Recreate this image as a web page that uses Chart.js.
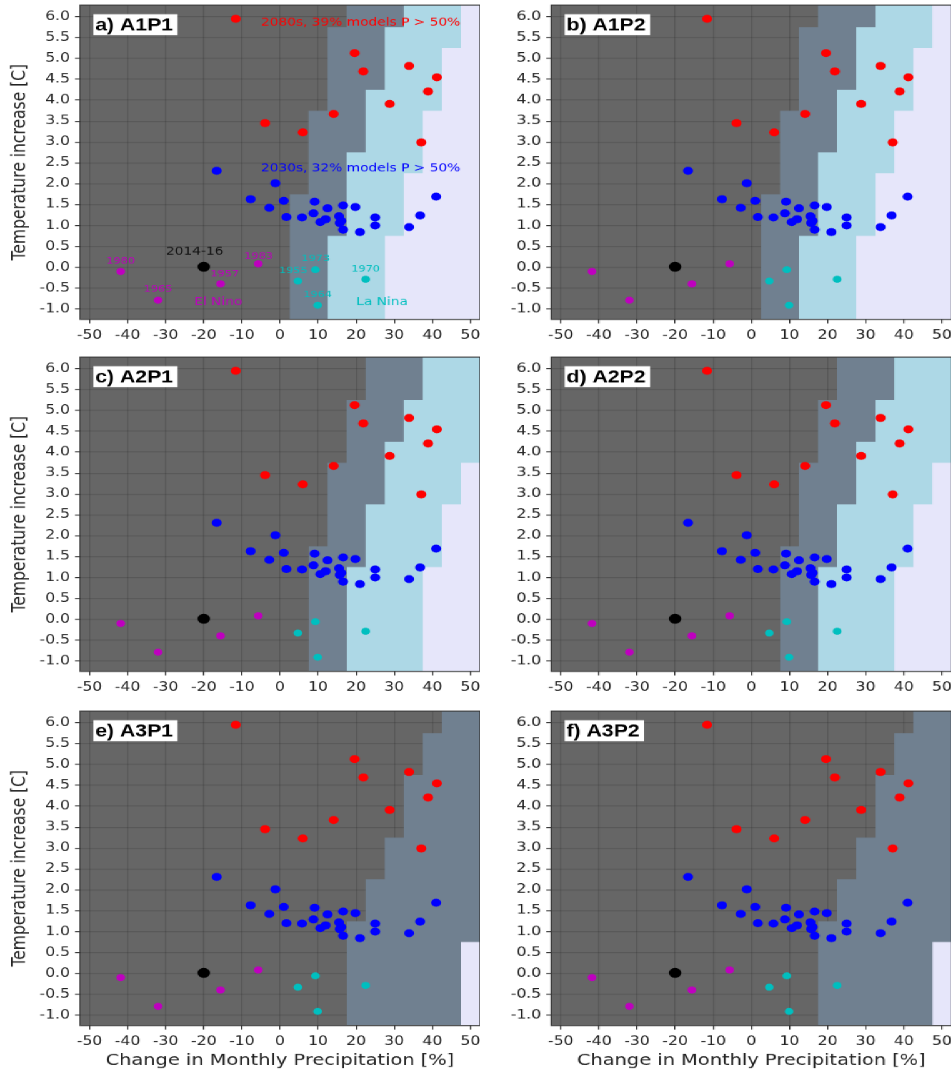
<!DOCTYPE html>
<html>
<head>
<meta charset="utf-8">
<script src="https://cdn.jsdelivr.net/npm/chart.js@4.4.1/dist/chart.umd.min.js"></script>
<style>
html, body { margin: 0; padding: 0; background: #fff; overflow: hidden; }
/* the source figure was resized wider than tall, so the whole sheet is stretched the same way */
#fig { position: absolute; left: 0; top: 0; width: 761px; height: 1069px; transform: scaleX(1.25); transform-origin: 0 0; }
#fig canvas { position: absolute; }
</style>
</head>
<body>
<div id="fig"></div>
<script>
// 2080s model projections (red)
const lateX = [-11.6, 19.6, 21.9, 33.9, 41.2, 38.9, 28.8, 14.1, -3.9, 6.0, 37.1];
const lateY = [5.95, 5.13, 4.69, 4.82, 4.55, 4.21, 3.91, 3.67, 3.45, 3.23, 2.99];

// 2030s model projections (blue)
const nearX = [-16.6, -1.2, -7.7, -2.8, 1.0, 1.7, 5.8, 9.1, 8.8, 10.6, 12.0, 12.5, 15.5, 16.1, 15.7, 16.6, 16.6, 19.8, 21.0, 25.0, 25.0, 33.9, 36.8, 41.0];
const nearY = [2.31, 2.01, 1.63, 1.42, 1.59, 1.20, 1.19, 1.57, 1.29, 1.08, 1.15, 1.41, 1.22, 1.11, 1.06, 1.48, 0.90, 1.44, 0.84, 1.19, 1.00, 0.96, 1.24, 1.69];

// observed years
const ninoYears = ['1980', '1965', '1957', '1983'];
const ninoX = [-41.8, -32.0, -15.6, -5.7];
const ninoY = [-0.10, -0.79, -0.40, 0.08];
const ninoLabelX = [-41.8, -32.0, -14.5, -5.6];
const ninoLabelY = [0.15, -0.53, -0.16, 0.26];

const ninaYears = ['1973', '1955', '1970', '1964'];
const ninaX = [9.3, 4.7, 22.5, 9.9];
const ninaY = [-0.06, -0.33, -0.29, -0.91];
const ninaLabelX = [9.4, 3.5, 22.5, 9.9];
const ninaLabelY = [0.20, -0.08, -0.04, -0.66];

const recentX = [-20.0];
const recentY = [0.01];

// probability cells: one entry per row of cells, giving the precipitation where each shade begins
const rowY = [-1.0, -0.5, 0.0, 0.5, 1.0, 1.5, 2.0, 2.5, 3.0, 3.5, 4.0, 4.5, 5.0, 5.5, 6.0];

const slateA = [2.5, 2.5, 2.5, 2.5, 2.5, 2.5, 7.5, 7.5, 7.5, 7.5, 12.5, 12.5, 12.5, 12.5, 17.5];
const cyanA = [12.5, 12.5, 12.5, 12.5, 17.5, 17.5, 17.5, 17.5, 22.5, 22.5, 22.5, 27.5, 27.5, 27.5, 32.5];
const lilacA = [27.5, 27.5, 27.5, 27.5, 32.5, 32.5, 32.5, 37.5, 37.5, 37.5, 42.5, 42.5, 42.5, 47.5, 47.5];

const slateC = [7.5, 7.5, 7.5, 7.5, 7.5, 7.5, 12.5, 12.5, 12.5, 12.5, 17.5, 17.5, 17.5, 22.5, 22.5];
const cyanC = [17.5, 17.5, 17.5, 17.5, 17.5, 22.5, 22.5, 22.5, 27.5, 27.5, 27.5, 32.5, 32.5, 37.5, 37.5];
const lilacC = [37.5, 37.5, 37.5, 37.5, 37.5, 42.5, 42.5, 42.5, 47.5, 47.5, null, null, null, null, null];

const slateE = [17.5, 17.5, 17.5, 17.5, 17.5, 22.5, 22.5, 27.5, 27.5, 32.5, 32.5, 32.5, 37.5, 37.5, 42.5];
const cyanE = [null, null, null, null, null, null, null, null, null, null, null, null, null, null, null];
const lilacE = [47.5, 47.5, 47.5, 47.5, null, null, null, null, null, null, null, null, null, null, null];

const xMin = -52.5, xMax = 52.5, yMin = -1.25, yMax = 6.28;

const darkShade = '#666666';
const shadeColours = ['#708090', '#add8e6', '#e6e6fa'];
const magenta = '#bf00bf';
const teal = '#00bfbf';

const panels = [
    { tag: 'a) A1P1', shades: [slateA, cyanA, lilacA], col: 0, row: 0, notes: true },
    { tag: 'b) A1P2', shades: [slateA, cyanA, lilacA], col: 1, row: 0 },
    { tag: 'c) A2P1', shades: [slateC, cyanC, lilacC], col: 0, row: 1 },
    { tag: 'd) A2P2', shades: [slateC, cyanC, lilacC], col: 1, row: 1 },
    { tag: 'e) A3P1', shades: [slateE, cyanE, lilacE], col: 0, row: 2 },
    { tag: 'f) A3P2', shades: [slateE, cyanE, lilacE], col: 1, row: 2 }
];

// column / row boxes in the unstretched sheet
const colLeft = [0, 384], colWidth = [384, 377], yAxisWidth = [64, 57];
const rowTop = [0, 352, 706], rowHeight = [350, 350, 363], xAxisHeight = [31, 31, 44];

Chart.defaults.font.family = "'DejaVu Sans', sans-serif";
Chart.defaults.color = '#222';

const pairs = (xs, ys) => xs.map((x, i) => ({ x: x, y: ys[i] }));

// staircase outline of one shade, filled down to the bottom of the plot
stepOutline = (starts) => {
    let xs = starts.map(v => v === null ? xMax : v);
    let pts = [{ x: xs[0], y: yMin }];
    for (let i = 0; i < xs.length - 1; i++) {
        if (xs[i + 1] !== xs[i]) {
            let edge = (rowY[i] + rowY[i + 1]) / 2;
            pts.push({ x: xs[i], y: edge });
            pts.push({ x: xs[i + 1], y: edge });
        }
    }
    pts.push({ x: xs[xs.length - 1], y: yMax + 1 });
    pts.push({ x: xMax, y: yMax + 1 });
    return pts;
}

buildNotes = () => {
    let notes = [
        { text: '2080s, 39% models P > 50%', x: -5.0, y: 5.86, color: '#ff0000', size: 11, align: 'left' },
        { text: '2030s, 32% models P > 50%', x: -5.0, y: 2.37, color: '#0000ff', size: 11, align: 'left' },
        { text: '2014-16', x: -22.4, y: 0.36, color: '#111', size: 11 },
        { text: 'El Nino', x: -16.2, y: -0.85, color: magenta, size: 11 },
        { text: 'La Nina', x: 26.8, y: -0.85, color: teal, size: 11 }
    ];
    ninoYears.forEach((t, i) => notes.push({ text: t, x: ninoLabelX[i], y: ninoLabelY[i], color: magenta, size: 9 }));
    ninaYears.forEach((t, i) => notes.push({ text: t, x: ninaLabelX[i], y: ninaLabelY[i], color: teal, size: 9 }));
    return notes;
}

const decor = {
    id: 'decor',
    beforeDraw(chart) {
        const { ctx, chartArea: a } = chart;
        ctx.save();
        ctx.fillStyle = darkShade;
        ctx.fillRect(a.left, a.top, a.right - a.left, a.bottom - a.top);
        ctx.restore();
    },
    afterDraw(chart, args, opts) {
        const { ctx, chartArea: a } = chart;
        const sx = chart.scales.x, sy = chart.scales.y;
        ctx.save();
        ctx.textBaseline = 'middle';
        opts.notes.forEach(n => {
            ctx.font = n.size + "px 'DejaVu Sans'";
            ctx.fillStyle = n.color;
            ctx.textAlign = n.align || 'center';
            ctx.fillText(n.text, sx.getPixelForValue(n.x), sy.getPixelForValue(n.y));
        });
        // panel tag in a white box
        ctx.font = "bold 17px 'Liberation Sans'";
        let w = ctx.measureText(opts.tag).width;
        let bx = sx.getPixelForValue(-49), by = sy.getPixelForValue(6.06);
        ctx.fillStyle = '#fff';
        ctx.fillRect(bx, by, w + 5, 21);
        ctx.fillStyle = '#000';
        ctx.textAlign = 'left';
        ctx.fillText(opts.tag, bx + 1.5, by + 11.5);
        // frame
        ctx.strokeStyle = '#333';
        ctx.lineWidth = 1;
        ctx.strokeRect(a.left, a.top, a.right - a.left, a.bottom - a.top);
        ctx.restore();
    }
};

makePanel = (p) => {
    let cv = document.createElement('canvas');
    cv.width = colWidth[p.col];
    cv.height = rowHeight[p.row];
    cv.style.left = colLeft[p.col] + 'px';
    cv.style.top = rowTop[p.row] + 'px';
    document.getElementById('fig').appendChild(cv);

    let datasets = [
        { label: '2014-16', data: pairs(recentX, recentY), backgroundColor: '#000', pointRadius: 5 },
        { label: '2080s', data: pairs(lateX, lateY), backgroundColor: '#ff0000', pointRadius: 4 },
        { label: '2030s', data: pairs(nearX, nearY), backgroundColor: '#0000ff', pointRadius: 4 },
        { label: 'El Nino', data: pairs(ninoX, ninoY), backgroundColor: magenta, pointRadius: 3.5 },
        { label: 'La Nina', data: pairs(ninaX, ninaY), backgroundColor: teal, pointRadius: 3.5 }
    ];
    datasets.forEach(d => { d.pointBorderWidth = 0; d.order = 0; });

    p.shades.forEach((starts, k) => {
        if (starts.every(v => v === null)) return;
        datasets.push({
            type: 'line',
            label: 'shade' + k,
            data: stepOutline(starts),
            fill: 'start',
            backgroundColor: shadeColours[k],
            borderColor: 'rgba(0,0,0,0)',
            borderWidth: 0,
            pointRadius: 0,
            tension: 0,
            order: 10 - k
        });
    });

    const gridColour = 'rgba(0,0,0,0.13)';
    new Chart(cv, {
        type: 'scatter',
        data: { datasets: datasets },
        plugins: [decor],
        options: {
            responsive: false,
            devicePixelRatio: 1.25,
            animation: false,
            events: [],
            layout: { autoPadding: false, padding: { top: 5, left: 0, right: 0, bottom: 0 } },
            scales: {
                x: {
                    type: 'linear',
                    min: xMin,
                    max: xMax,
                    z: 1,
                    afterFit: s => { s.height = xAxisHeight[p.row]; s.paddingLeft = 0; s.paddingRight = 0; },
                    ticks: { stepSize: 10, includeBounds: false, autoSkip: false, maxRotation: 0, padding: 5, font: { size: 12.5 }, color: '#222' },
                    grid: { color: gridColour, tickColor: '#333', tickLength: 4 },
                    border: { display: false },
                    title: {
                        display: p.row === 2,
                        text: 'Change in Monthly Precipitation [%]',
                        font: { size: 15.5 },
                        color: '#222',
                        padding: { top: 0, bottom: -1 }
                    }
                },
                y: {
                    type: 'linear',
                    min: yMin,
                    max: yMax,
                    z: 1,
                    afterFit: s => { s.width = yAxisWidth[p.col]; s.paddingTop = 0; s.paddingBottom = 0; },
                    ticks: { stepSize: 0.5, includeBounds: false, autoSkip: false, padding: 4, font: { size: 12.5 }, color: '#222', callback: v => v.toFixed(1) },
                    grid: { color: gridColour, tickColor: '#333', tickLength: 4 },
                    border: { display: false },
                    title: {
                        display: p.col === 0,
                        text: 'Temperature increase [C]',
                        font: { size: 15.5 },
                        color: '#222',
                        padding: { top: 7, bottom: 0 }
                    }
                }
            },
            plugins: {
                legend: { display: false },
                tooltip: { enabled: false },
                decor: { tag: p.tag, notes: p.notes ? buildNotes() : [] }
            }
        }
    });
}

panels.forEach(makePanel);
</script>
</body>
</html>
